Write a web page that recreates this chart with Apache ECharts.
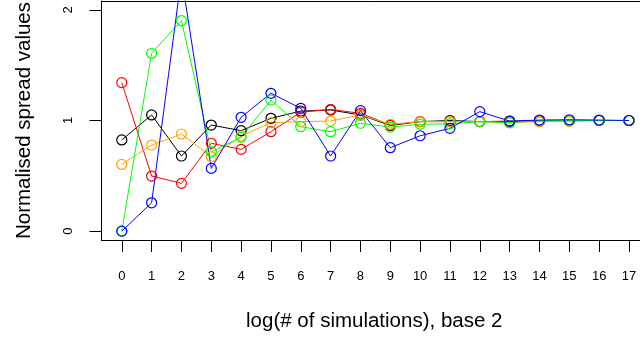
<!DOCTYPE html>
<html>
<head>
<meta charset="utf-8">
<script src="https://cdn.jsdelivr.net/npm/echarts@6/dist/echarts.min.js"></script>
<style>
  html, body { margin: 0; padding: 0; background: #fff; }
  #chart { width: 640px; height: 339px; }
</style>
</head>
<body>
<div id="chart"></div>
<script>
// log2 of number of simulations
const steps = [0, 1, 2, 3, 4, 5, 6, 7, 8, 9, 10, 11, 12, 13, 14, 15, 16, 17];
const yTicks = [0, 1, 2];

const blackVals  = [0.824, 1.05, 0.679, 0.959, 0.908, 1.02, 1.085, 1.095, 1.05, 0.955, 0.99, 1.0, 0.99, 0.99, 1.0, 1.0, 1.0, 1.0];
const redVals    = [1.342, 0.498, 0.432, 0.794, 0.739, 0.899, 1.075, 1.10, 1.065, 0.96, 0.99, 0.99, 0.99, 0.995, 0.99, 1.0, 1.0, 1.0];
const orangeVals = [0.603, 0.778, 0.878, 0.672, 0.86, 0.98, 0.99, 0.995, 1.05, 0.966, 0.99, 0.99, 0.99, 0.98, 0.99, 0.99, 1.0, 1.0];
const greenVals  = [0.0, 1.608, 1.903, 0.718, 0.848, 1.185, 0.944, 0.899, 0.975, 0.94, 0.966, 0.97, 0.99, 0.98, 1.0, 1.0, 1.0, 1.0];
const blueVals   = [0.0, 0.256, 2.3, 0.567, 1.029, 1.246, 1.11, 0.679, 1.089, 0.754, 0.862, 0.929, 1.08, 0.995, 1.004, 1.007, 1.004, 1.0];

const FONT = 'Liberation Sans, Arial, Helvetica, sans-serif';
// the plot box runs past the right edge of the image, so x stops where the picture is cut
const X_MIN = -0.68, X_MAX = 17.37;

const chart = echarts.init(document.getElementById('chart'));

const mkSeries = (name, vals, color) => ({
  name: name,
  type: 'line',
  data: steps.map((s, i) => [s, vals[i]]),
  symbol: 'circle',
  symbolSize: 10,
  showAllSymbol: true,
  clip: true,
  animation: false,
  lineStyle: { color: color, width: 1 },
  itemStyle: { color: 'rgba(0,0,0,0)', borderColor: color, borderWidth: 1.2 },
  emphasis: { disabled: true }
});

chart.setOption({
  backgroundColor: '#fff',
  animation: false,
  grid: { left: 101.5, right: 0, top: 1, bottom: 99, show: false, outerBoundsMode: 'none' },
  xAxis: [{
    type: 'value',
    min: X_MIN, max: X_MAX,
    name: 'log(# of simulations), base 2',
    nameLocation: 'middle',
    nameGap: 71,
    nameTextStyle: { fontFamily: FONT, fontSize: 20.5, color: '#000', padding: [0, 0, 0, 7] },
    axisLine: { show: true, onZero: false, lineStyle: { color: '#000', width: 1 } },
    splitLine: { show: false },
    axisTick: { show: true, customValues: steps, length: 12, lineStyle: { color: '#000' } },
    axisLabel: { customValues: steps, margin: 30, fontFamily: FONT, fontSize: 13, color: '#000' }
  }, {
    // top edge of the box
    type: 'value',
    position: 'top',
    min: X_MIN, max: X_MAX,
    axisLine: { show: true, onZero: false, lineStyle: { color: '#000', width: 1 } },
    axisTick: { show: false },
    axisLabel: { show: false },
    splitLine: { show: false }
  }],
  yAxis: {
    type: 'value',
    min: -0.08, max: 2.08,
    name: 'Normalised spread values',
    nameLocation: 'middle',
    nameRotate: 90,
    nameGap: 67,
    nameTextStyle: { fontFamily: FONT, fontSize: 20.5, color: '#000' },
    axisLine: { show: true, onZero: false, lineStyle: { color: '#000', width: 1 } },
    splitLine: { show: false },
    axisTick: { show: true, customValues: yTicks, length: 12, lineStyle: { color: '#000' } },
    axisLabel: { customValues: yTicks, rotate: 90, margin: 27, fontFamily: FONT, fontSize: 13, color: '#000' }
  },
  series: [
    mkSeries('black', blackVals, '#000000'),
    mkSeries('red', redVals, '#FF0000'),
    mkSeries('orange', orangeVals, '#FFA500'),
    mkSeries('green', greenVals, '#00FF00'),
    mkSeries('blue', blueVals, '#0000FF')
  ]
});
</script>
</body>
</html>
